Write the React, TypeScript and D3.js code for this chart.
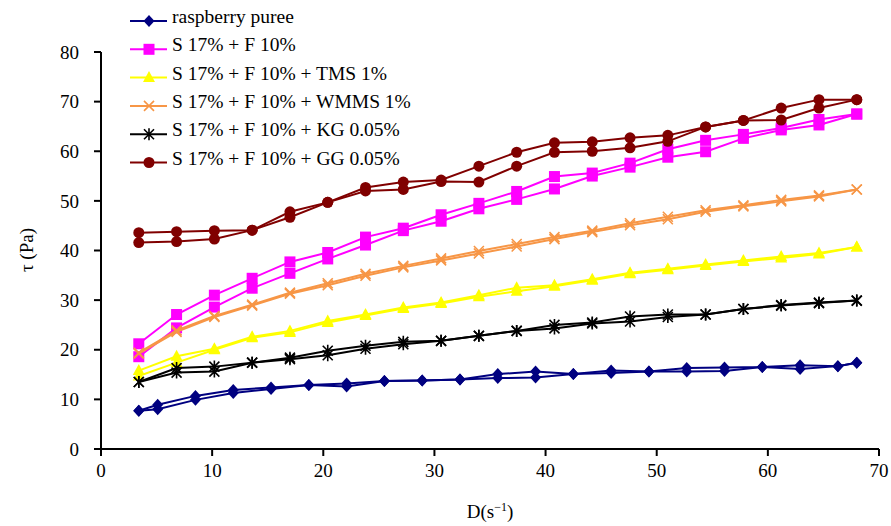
import React from "react";
import * as d3 from "d3";

const xMain = [3.4, 6.8, 10.2, 13.6, 17, 20.4, 23.8, 27.2, 30.6, 34, 37.4, 40.8, 44.2, 47.6, 51, 54.4, 57.8, 61.2, 64.6, 68];
const xRasp = [3.4, 5.1, 8.5, 11.9, 15.3, 18.7, 22.1, 25.5, 28.9, 32.3, 35.7, 39.1, 42.5, 45.9, 49.3, 52.7, 56.1, 59.5, 62.9, 66.3, 68];

const raspUp = [7.7, 8.9, 10.7, 11.9, 12.4, 12.9, 13.2, 13.7, 13.8, 14.0, 15.1, 15.6, 15.1, 15.8, 15.6, 16.3, 16.4, 16.5, 16.9, 16.7, 17.4];
const raspDown = [7.7, 8.0, 9.9, 11.3, 12.1, 12.9, 12.6, 13.7, 13.8, 14.0, 14.3, 14.4, 15.1, 15.3, 15.6, 15.6, 15.7, 16.5, 16.1, 16.7, 17.4];

const sfUp = [21.2, 27.1, 31.0, 34.4, 37.7, 39.6, 42.7, 44.5, 47.2, 49.5, 51.9, 54.9, 55.6, 57.6, 60.4, 62.2, 63.4, 64.7, 66.4, 67.5];
const sfDown = [18.6, 24.4, 28.6, 32.4, 35.4, 38.3, 41.1, 44.0, 45.9, 48.4, 50.3, 52.4, 55.0, 56.8, 58.8, 59.9, 62.6, 64.3, 65.3, 67.5];

const tmsUp = [15.8, 18.7, 20.2, 22.6, 23.8, 25.8, 27.1, 28.5, 29.5, 31.0, 32.5, 33.0, 34.2, 35.5, 36.3, 37.2, 38.0, 38.8, 39.5, 40.7];
const tmsDown = [14.7, 17.4, 20.0, 22.4, 23.5, 25.5, 26.9, 28.3, 29.3, 30.7, 31.8, 32.8, 34.0, 35.3, 36.1, 37.0, 37.8, 38.5, 39.3, 40.7];

const wmmsUp = [19.4, 23.9, 26.8, 29.1, 31.5, 33.4, 35.3, 36.9, 38.4, 39.9, 41.3, 42.7, 44.0, 45.5, 46.8, 48.1, 49.1, 50.2, 51.1, 52.3];
const wmmsDown = [19.2, 23.6, 26.6, 28.9, 31.3, 33.0, 34.9, 36.6, 38.0, 39.4, 40.8, 42.3, 43.7, 45.1, 46.3, 47.8, 48.9, 49.9, 50.9, 52.3];

const kgUp = [13.5, 16.3, 16.6, 17.4, 18.4, 19.8, 20.8, 21.6, 21.8, 22.8, 23.8, 25.0, 25.5, 26.7, 27.1, 27.1, 28.2, 29.0, 29.5, 29.9];
const kgDown = [13.5, 15.4, 15.6, 17.4, 18.1, 18.9, 20.2, 21.1, 21.8, 22.8, 23.8, 24.3, 25.3, 25.7, 26.6, 27.1, 28.2, 28.9, 29.4, 29.9];

const ggUp = [43.6, 43.8, 44.0, 44.1, 47.8, 49.7, 52.7, 53.8, 54.2, 57.0, 59.8, 61.7, 61.9, 62.7, 63.2, 64.9, 66.2, 68.7, 70.4, 70.4];
const ggDown = [41.6, 41.8, 42.3, 44.1, 46.7, 49.7, 52.0, 52.3, 53.9, 53.8, 57.0, 59.8, 60.0, 60.7, 62.0, 64.9, 66.2, 66.3, 68.7, 70.4];

const xTicks = [0, 10, 20, 30, 40, 50, 60, 70];
const yTicks = [0, 10, 20, 30, 40, 50, 60, 70, 80];

const seriesNames = [
  "raspberry puree",
  "S 17% + F 10%",
  "S 17% + F 10% + TMS 1%",
  "S 17% + F 10% + WMMS 1%",
  "S 17% + F 10% + KG 0.05%",
  "S 17% + F 10% + GG 0.05%",
];
const seriesColors = ["#000080", "#FF00FF", "#FFFF00", "#F79646", "#000000", "#800000"];
const seriesMarkers = ["diamond", "square", "triangle", "x", "star", "circle"];
const seriesX = [xRasp, xMain, xMain, xMain, xMain, xMain];
const seriesUp = [raspUp, sfUp, tmsUp, wmmsUp, kgUp, ggUp];
const seriesDown = [raspDown, sfDown, tmsDown, wmmsDown, kgDown, ggDown];

const W = 891;
const H = 526;
const FONT = "'Liberation Serif', 'Times New Roman', serif";

function Marker({ type, x, y, color }: { type: string; x: number; y: number; color: string }) {
  const t = `translate(${x},${y})`;
  if (type === "diamond") return <path transform={t} d="M0,-6L5.5,0L0,6L-5.5,0Z" fill={color} />;
  if (type === "square") return <rect x={x - 5.5} y={y - 5.5} width={11} height={11} fill={color} />;
  if (type === "triangle") return <path transform={t} d="M0,-6.5L6,4.5L-6,4.5Z" fill={color} />;
  if (type === "circle") return <circle cx={x} cy={y} r={5.5} fill={color} />;
  if (type === "x")
    return <path transform={t} d="M-5,-5L5,5M-5,5L5,-5" stroke={color} strokeWidth={1.6} fill="none" />;
  if (type === "star")
    return (
      <path transform={t} d="M-5,-5L5,5M-5,5L5,-5M0,-6L0,6" stroke={color} strokeWidth={1.6} fill="none" />
    );
  return null;
}

export default function App() {
  const x = d3.scaleLinear().domain([0, 70]).range([101, 879]);
  const y = d3.scaleLinear().domain([0, 80]).range([449, 52]);
  const line = d3
    .line<[number, number]>()
    .x((d) => x(d[0]))
    .y((d) => y(d[1]));

  return (
    <svg
      width={W}
      height={H}
      style={{ position: "absolute", left: 0, top: 0, background: "#fff" }}
      fontFamily={FONT}
    >
      {/* axes */}
      <line x1={101} x2={101} y1={y(80)} y2={y(0)} stroke="#000" strokeWidth={2} />
      <line x1={100} x2={x(70)} y1={y(0)} y2={y(0)} stroke="#000" strokeWidth={2} />
      {yTicks.map((t) => (
        <g key={"y" + t}>
          <line x1={94} x2={101} y1={y(t)} y2={y(t)} stroke="#000" strokeWidth={2} />
          <text x={79} y={y(t)} dy="0.35em" textAnchor="end" fontSize={19} fill="#000">
            {t}
          </text>
        </g>
      ))}
      {xTicks.map((t) => (
        <g key={"x" + t}>
          <line x1={x(t)} x2={x(t)} y1={y(0)} y2={y(0) + 7} stroke="#000" strokeWidth={2} />
          <text x={x(t)} y={477} textAnchor="middle" fontSize={19} fill="#000">
            {t}
          </text>
        </g>
      ))}
      <text x={490} y={518} textAnchor="middle" fontSize={19} fill="#000">
        D(s
        <tspan dy={-7} fontSize={12}>
          −1
        </tspan>
        <tspan dy={7}>)</tspan>
      </text>
      <text transform={`translate(33,250) rotate(-90)`} textAnchor="middle" fontSize={19} fill="#000">
        τ (Pa)
      </text>

      {/* series */}
      {seriesNames.map((name, i) => {
        const xs = seriesX[i];
        const up: [number, number][] = xs.map((v, k) => [v, seriesUp[i][k]]);
        const down: [number, number][] = xs.map((v, k) => [v, seriesDown[i][k]]);
        return (
          <g key={name}>
            <path d={line(up) || ""} fill="none" stroke={seriesColors[i]} strokeWidth={2} />
            <path d={line(down) || ""} fill="none" stroke={seriesColors[i]} strokeWidth={2} />
            {up.map((p, k) => (
              <Marker key={"u" + k} type={seriesMarkers[i]} x={x(p[0])} y={y(p[1])} color={seriesColors[i]} />
            ))}
            {down.map((p, k) => (
              <Marker key={"d" + k} type={seriesMarkers[i]} x={x(p[0])} y={y(p[1])} color={seriesColors[i]} />
            ))}
          </g>
        );
      })}

      {/* legend */}
      {seriesNames.map((name, i) => {
        const ly = 21 + i * 28.3;
        return (
          <g key={"leg" + i}>
            <line x1={130} x2={167} y1={ly} y2={ly} stroke={seriesColors[i]} strokeWidth={2} />
            <Marker type={seriesMarkers[i]} x={149} y={ly} color={seriesColors[i]} />
            <text x={172} y={ly + 2} fontSize={19.5} fill="#000">
              {name}
            </text>
          </g>
        );
      })}
    </svg>
  );
}
